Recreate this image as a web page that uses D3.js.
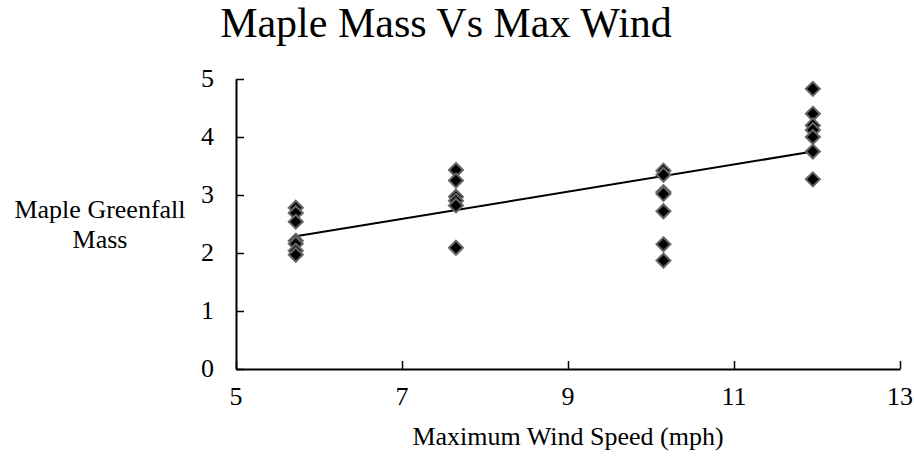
<!DOCTYPE html>
<html>
<head>
<meta charset="utf-8">
<script src="https://cdn.jsdelivr.net/npm/d3@7"></script>
<style>
  body { margin: 0; background: #fff; }
  text { font-family: "Liberation Serif", "Times New Roman", serif; fill: #000; }
</style>
</head>
<body>
<div id="chart"></div>
<script>
// wind speed groups and the greenfall masses read at each one
var windSpeeds = [5.72, 7.65, 10.15, 11.95];
var massAt5_7 = [2.78, 2.69, 2.54, 2.21, 2.16, 2.04, 1.97];
var massAt7_6 = [3.43, 3.25, 2.97, 2.9, 2.82, 2.09];
var massAt10_2 = [3.42, 3.35, 3.05, 3.02, 2.72, 2.15, 1.87];
var massAt12_0 = [4.83, 4.4, 4.2, 4.12, 4.0, 3.75, 3.27];
var xTicks = [5, 7, 9, 11, 13];
var yTicks = [0, 1, 2, 3, 4, 5];

var groups = [massAt5_7, massAt7_6, massAt10_2, massAt12_0];
var points = [];
groups.forEach(function(g, i) {
    g.forEach(function(m) { points.push({x: windSpeeds[i], y: m}); });
});

var width = 914, height = 456;
var plotL = 236, plotR = 900, plotT = 79, plotB = 369;

var svg = d3.select("#chart").append("svg")
    .attr("width", width)
    .attr("height", height);

var x = d3.scaleLinear().domain([5, 13]).range([plotL, plotR]);
var y = d3.scaleLinear().domain([0, 5]).range([plotB, plotT]);

// axes, ticks point inward like the original
var xAxis = svg.append("g")
    .attr("transform", "translate(0," + plotB + ")")
    .call(d3.axisTop(x).tickValues(xTicks).tickSize(8).tickSizeOuter(0).tickFormat(""));
var yAxis = svg.append("g")
    .attr("transform", "translate(" + plotL + ",0)")
    .call(d3.axisRight(y).tickValues(yTicks).tickSize(8).tickSizeOuter(0).tickFormat(""));
[xAxis, yAxis].forEach(function(a) {
    a.select(".domain").attr("stroke", "#000").attr("stroke-width", 2);
    a.selectAll(".tick line").attr("stroke", "#000").attr("stroke-width", 1.5);
});

svg.selectAll(".xlab").data(xTicks).enter().append("text")
    .attr("x", function(d) { return x(d); })
    .attr("y", plotB + 36)
    .attr("text-anchor", "middle")
    .attr("font-size", 26)
    .text(function(d) { return d; });

svg.selectAll(".ylab").data(yTicks).enter().append("text")
    .attr("x", plotL - 22)
    .attr("y", function(d) { return y(d) + 8; })
    .attr("text-anchor", "end")
    .attr("font-size", 26)
    .text(function(d) { return d; });

// linear trend by least squares
var mx = d3.mean(points, function(p) { return p.x; });
var my = d3.mean(points, function(p) { return p.y; });
var sxy = d3.sum(points, function(p) { return (p.x - mx) * (p.y - my); });
var sxx = d3.sum(points, function(p) { return (p.x - mx) * (p.x - mx); });
var slope = sxy / sxx, icpt = my - slope * mx;
var xr = d3.extent(points, function(p) { return p.x; });

svg.append("line")
    .attr("x1", x(xr[0])).attr("y1", y(icpt + slope * xr[0]))
    .attr("x2", x(xr[1])).attr("y2", y(icpt + slope * xr[1]))
    .attr("stroke", "#000")
    .attr("stroke-width", 2);

var r = 7;
svg.selectAll(".pt").data(points).enter().append("path")
    .attr("d", "M0," + (-r) + "L" + r + ",0L0," + r + "L" + (-r) + ",0Z")
    .attr("transform", function(p) { return "translate(" + x(p.x) + "," + y(p.y) + ")"; })
    .attr("fill", "#000")
    .attr("stroke", "#666")
    .attr("stroke-width", 2);

svg.append("text")
    .attr("x", 446).attr("y", 37)
    .attr("text-anchor", "middle")
    .attr("font-size", 42)
    .text("Maple Mass Vs Max Wind");

svg.append("text")
    .attr("x", 568).attr("y", 445)
    .attr("text-anchor", "middle")
    .attr("font-size", 26)
    .text("Maximum Wind Speed (mph)");

var yt = svg.append("text")
    .attr("text-anchor", "middle")
    .attr("font-size", 26);
yt.append("tspan").attr("x", 100).attr("y", 218).text("Maple Greenfall");
yt.append("tspan").attr("x", 100).attr("y", 248).text("Mass");
</script>
</body>
</html>
